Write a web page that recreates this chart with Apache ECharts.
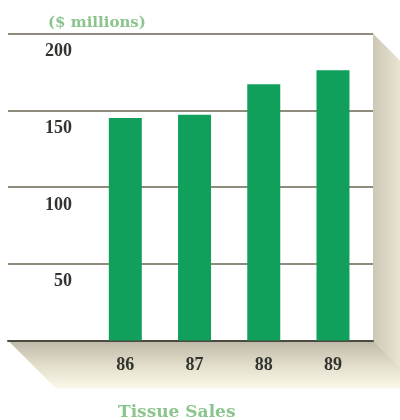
<!DOCTYPE html>
<html>
<head>
<meta charset="utf-8">
<script src="https://cdn.jsdelivr.net/npm/echarts@6/dist/echarts.min.js"></script>
<style>
  html, body { margin: 0; padding: 0; background: #ffffff; }
  #chart { width: 400px; height: 420px; }
</style>
</head>
<body>
<div id="chart"></div>
<script>
// Tissue sales by year, $ millions
const years = ['86', '87', '88', '89'];
const sales = [145, 147, 167, 176];
const axisMin = 0;
const axisMax = 200;
const axisStep = 50;

const W = 400, H = 420;
// plot panel (white card with grid lines)
const panel = { left: 8, right: 373, top: 33.5, bottom: 340.5 };
// band area that holds the four year columns
const bands = { left: 90.7, right: 367.6 };
// depth of the extruded card edge
const depth = 48;

const serif = '"Liberation Serif", "DejaVu Serif", serif';
const wideSerif = '"DejaVu Serif", "Liberation Serif", serif';
const barGreen = '#10a05c';
const lightGreen = '#8cc48e';
const ink = '#333330';

const chart = echarts.init(document.getElementById('chart'), null, { renderer: 'canvas' });

chart.setOption({
  backgroundColor: '#ffffff',
  animation: false,
  title: [
    {
      text: '($ millions)',
      left: 43, top: 11,
      textStyle: { fontFamily: wideSerif, fontWeight: 'bold', fontSize: 15, color: lightGreen }
    },
    {
      text: 'Tissue Sales',
      left: 113, top: 399,
      textStyle: { fontFamily: wideSerif, fontWeight: 'bold', fontSize: 17, color: lightGreen }
    }
  ],
  graphic: [
    // extruded side of the panel on the right
    {
      type: 'polygon', z: -10, silent: true,
      shape: { points: [[panel.right, panel.top], [panel.right + depth, panel.top + depth], [panel.right + depth, panel.bottom + depth], [panel.right, panel.bottom]] },
      style: {
        fill: new echarts.graphic.LinearGradient(0, 0, 1, 0, [
          { offset: 0, color: '#cdc7b6' },
          { offset: 0.5, color: '#e6e1cf' },
          { offset: 1, color: '#fbf9ee' }
        ])
      }
    },
    // extruded base under the panel
    {
      type: 'polygon', z: -10, silent: true,
      shape: { points: [[panel.left, panel.bottom], [panel.right, panel.bottom], [panel.right + depth, panel.bottom + depth], [panel.left + depth, panel.bottom + depth]] },
      style: {
        fill: new echarts.graphic.LinearGradient(0, 0, 0, 1, [
          { offset: 0, color: '#bcb7a8' },
          { offset: 0.5, color: '#e2ddca' },
          { offset: 1, color: '#fbf9ea' }
        ])
      }
    }
  ],
  grid: [
    {
      left: panel.left, right: W - panel.right, top: panel.top, bottom: H - panel.bottom,
      show: true, backgroundColor: '#ffffff', borderWidth: 0
    },
    {
      left: bands.left, right: W - bands.right, top: panel.top, bottom: H - panel.bottom
    }
  ],
  xAxis: [
    {
      gridIndex: 0, type: 'value', min: 0, max: 1,
      axisLine: { show: true, onZero: false, lineStyle: { color: '#4a4a40', width: 2 } },
      axisTick: { show: false }, axisLabel: { show: false }, splitLine: { show: false }
    },
    {
      gridIndex: 1, type: 'category', data: years, boundaryGap: true,
      axisLine: { show: false }, axisTick: { show: false },
      axisLabel: { margin: 16, fontFamily: serif, fontWeight: 'bold', fontSize: 18, color: ink }
    }
  ],
  yAxis: [
    {
      gridIndex: 0, type: 'value', min: axisMin, max: axisMax, interval: axisStep,
      axisLine: { show: false }, axisTick: { show: false },
      splitLine: { show: true, lineStyle: { color: '#6a6452', width: 1.5 } },
      axisLabel: {
        inside: true, align: 'right', margin: 64, verticalAlign: 'top',
        padding: [9, 0, 0, 0],
        fontFamily: serif, fontWeight: 'bold', fontSize: 18, color: ink,
        formatter: v => (v === axisMin ? '' : String(v))
      }
    },
    {
      gridIndex: 1, type: 'value', min: axisMin, max: axisMax, interval: axisStep,
      show: false, splitLine: { show: false }
    }
  ],
  series: [
    {
      type: 'bar', xAxisIndex: 1, yAxisIndex: 1,
      data: sales, barWidth: 33,
      itemStyle: { color: barGreen },
      z: 5
    }
  ]
});
</script>
</body>
</html>
